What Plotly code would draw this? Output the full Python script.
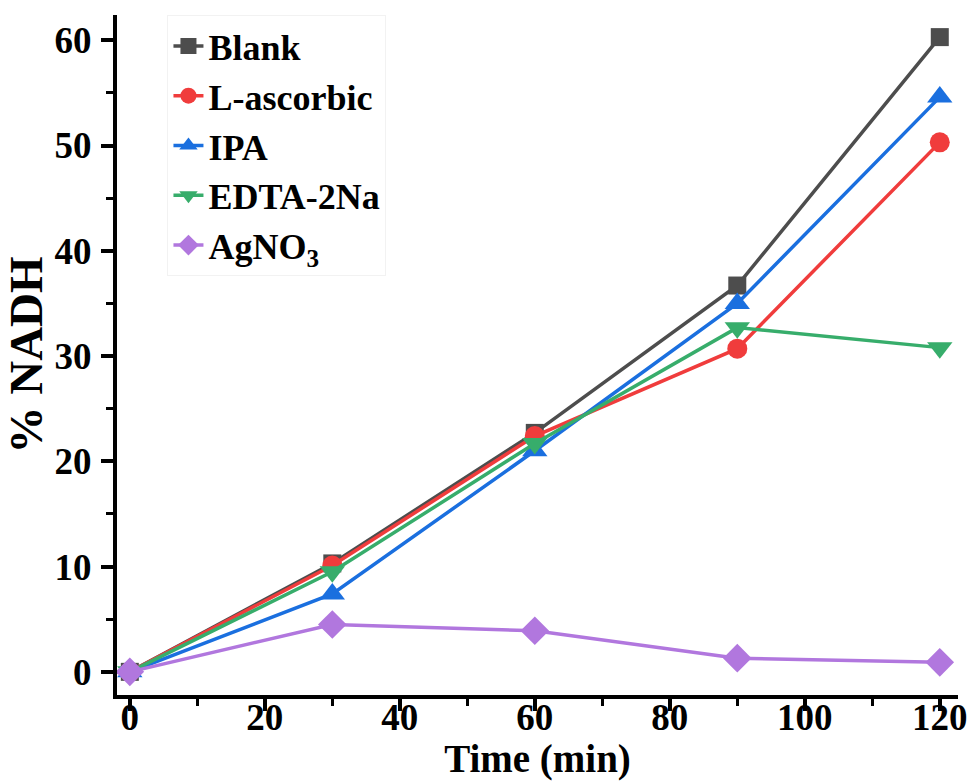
import plotly.graph_objects as go

time_min = [0, 30, 60, 90, 120]
series_names = ["Blank", "L-ascorbic", "IPA", "EDTA-2Na", "AgNO<sub>3</sub>"]
blank = [0, 10.3, 22.7, 36.7, 60.3]
l_ascorbic = [0, 10.1, 22.4, 30.7, 50.3]
ipa = [0, 7.4, 21.0, 35.0, 54.6]
edta = [0, 9.5, 21.7, 32.7, 30.8]
agno3 = [0, 4.5, 3.9, 1.3, 0.9]

values = [blank, l_ascorbic, ipa, edta, agno3]
colors = ["#4d4d4d", "#f03c3c", "#1a6fdf", "#37ad6b", "#b177de"]
symbols = ["square", "circle", "triangle-up", "triangle-down", "diamond"]
sizes = [18, 20, 22, 22, 22]

fig = go.Figure()
for name, vals, c, s, sz in zip(series_names, values, colors, symbols, sizes):
    fig.add_trace(go.Scatter(
        x=time_min, y=vals, name=name, mode="lines+markers",
        line=dict(color=c, width=3.5),
        marker=dict(color=c, symbol=s, size=sz),
    ))

font_family = "Liberation Serif"
fig.update_layout(
    width=971, height=781,
    margin=dict(l=117, r=13, t=15, b=86),
    paper_bgcolor="white", plot_bgcolor="white",
    font=dict(family=font_family, size=36, color="black"),
    showlegend=True,
    legend=dict(
        x=0.06, y=1.0, xanchor="left", yanchor="top",
        font=dict(family=font_family, size=36, color="black", weight="bold"),
        bgcolor="rgba(255,255,255,0)", bordercolor="#f2f2f2", borderwidth=1,
        tracegroupgap=0, itemsizing="trace",
    ),
    xaxis=dict(
        range=[-1.9, 122.7], tickvals=[0, 20, 40, 60, 80, 100, 120],
        showline=True, linecolor="black", linewidth=4, mirror=False,
        ticks="outside", ticklen=12, tickwidth=4, tickcolor="black",
        minor=dict(tickvals=[10, 30, 50, 70, 90, 110], ticks="outside", ticklen=7, tickwidth=3, tickcolor="black"),
        showgrid=False, zeroline=False, automargin=False, ticklabelstandoff=-25,
        tickfont=dict(family=font_family, size=37, weight="bold"),
        title=dict(text="Time (min)", font=dict(family=font_family, size=39, weight="bold"), standoff=0),
    ),
    yaxis=dict(
        range=[-2.2, 62.4], tickvals=[0, 10, 20, 30, 40, 50, 60],
        showline=True, linecolor="black", linewidth=4, mirror=False,
        ticks="outside", ticklen=12, tickwidth=4, tickcolor="black",
        minor=dict(tickvals=[5, 15, 25, 35, 45, 55], ticks="outside", ticklen=7, tickwidth=3, tickcolor="black"),
        showgrid=False, zeroline=False, automargin=False, ticklabelstandoff=2,
        tickfont=dict(family=font_family, size=37, weight="bold"),
        title=dict(text="% NADH", font=dict(family=font_family, size=47, weight="bold"), standoff=4),
    ),
)

fig.write_html("out.html")
